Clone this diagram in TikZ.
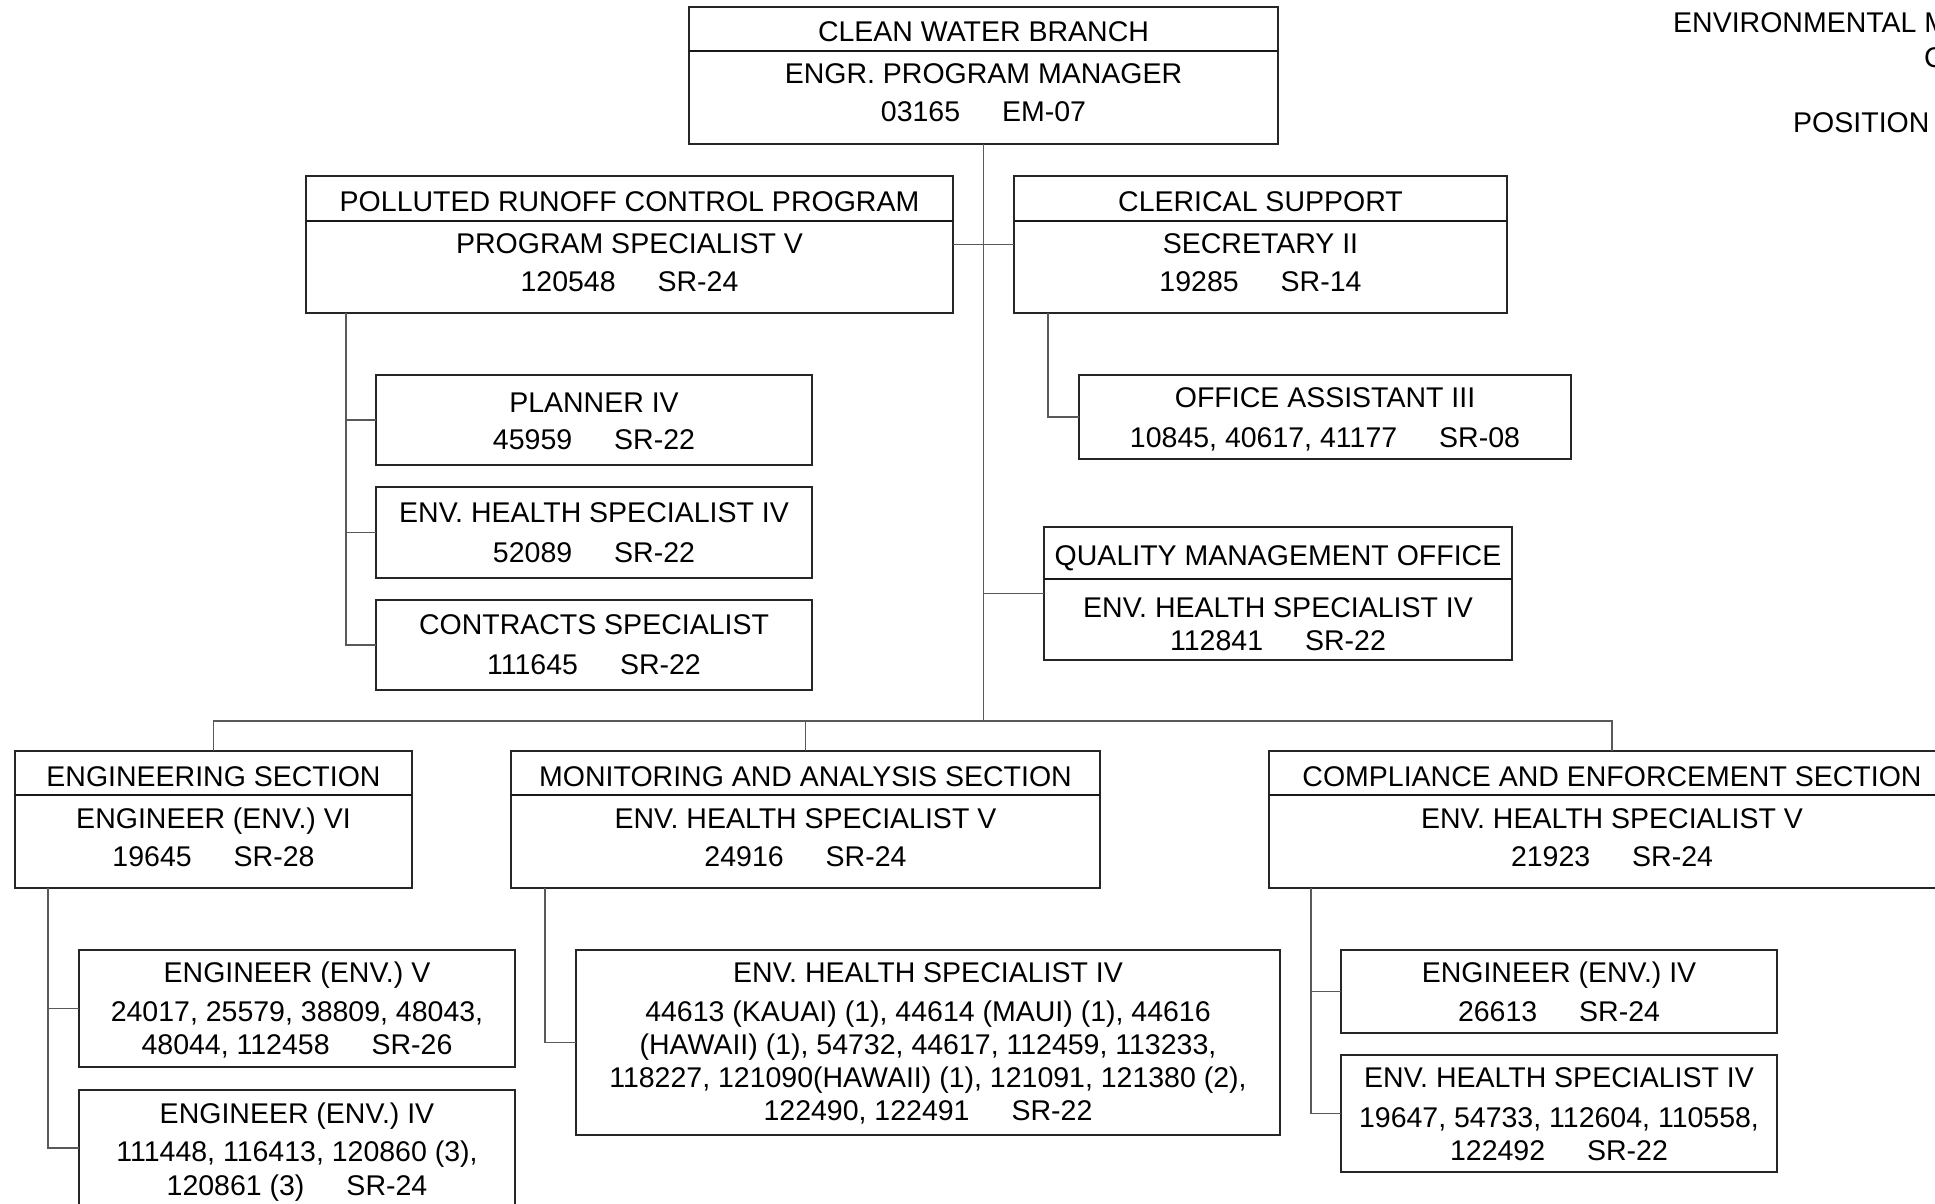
\documentclass[tikz,border=0pt]{standalone}
\usepackage{fontspec}
\setmainfont{Liberation Sans}
\newcommand\gp{\hspace{42pt}}
\begin{document}
\begin{tikzpicture}[x=1pt,y=-1pt,
  box/.style={draw=black!85,line width=1.6pt,rectangle,anchor=north west,inner sep=0pt,outer sep=0pt},
  div/.style={draw=black!90,line width=1.4pt},
  conn/.style={draw=black!65,line width=1.5pt},
  txt/.style={anchor=base,inner sep=0pt,font=\fontsize{28.5}{34}\selectfont},
  ltxt/.style={anchor=base west,inner sep=0pt,font=\fontsize{28.5}{34}\selectfont}]
\useasboundingbox (0,0) rectangle (1935,1204);
\clip (0,0) rectangle (1935,1204);
\fill[white] (0,0) rectangle (1935,1204);

% boxes
\node[box,minimum width=589pt,minimum height=137pt] (top) at (689,7) {};
\node[box,minimum width=647pt,minimum height=137pt] (prc) at (306,176) {};
\node[box,minimum width=493pt,minimum height=137pt] (cler) at (1014,176) {};
\node[box,minimum width=436pt,minimum height=90pt] (pl) at (376,375) {};
\node[box,minimum width=436pt,minimum height=91pt] (ehs) at (376,487) {};
\node[box,minimum width=436pt,minimum height=90pt] (con) at (376,600) {};
\node[box,minimum width=492pt,minimum height=84pt] (oa) at (1079,375) {};
\node[box,minimum width=468pt,minimum height=133pt] (qmo) at (1044,527) {};
\node[box,minimum width=397pt,minimum height=137pt] (eng) at (15,751) {};
\node[box,minimum width=589pt,minimum height=137pt] (mon) at (511,751) {};
\node[box,minimum width=686pt,minimum height=137pt] (comp) at (1269,751) {};
\node[box,minimum width=436pt,minimum height=117pt] (e5) at (79,950) {};
\node[box,minimum width=436pt,minimum height=116pt] (e4) at (79,1090) {};
\node[box,minimum width=704pt,minimum height=185pt] (ehm) at (576,950) {};
\node[box,minimum width=436pt,minimum height=83pt] (ce4) at (1341,950) {};
\node[box,minimum width=436pt,minimum height=117pt] (ceh) at (1341,1055) {};

% dividers
\draw[div] ([yshift=-44pt]top.north west) -- ([yshift=-44pt]top.north east);
\draw[div] ([yshift=-45pt]prc.north west) -- ([yshift=-45pt]prc.north east);
\draw[div] ([yshift=-45pt]cler.north west) -- ([yshift=-45pt]cler.north east);
\draw[div] ([yshift=-52pt]qmo.north west) -- ([yshift=-52pt]qmo.north east);
\draw[div] ([yshift=-44pt]eng.north west) -- ([yshift=-44pt]eng.north east);
\draw[div] ([yshift=-44pt]mon.north west) -- ([yshift=-44pt]mon.north east);
\draw[div] ([yshift=-44pt]comp.north west) -- ([yshift=-44pt]comp.north east);

% connectors
\coordinate (bar) at (983.5,721);
\draw[conn] (top.south) -- (bar);
\draw[conn] (prc.east) -- (cler.west);
\draw[conn] (qmo.west) -- (qmo.west -| bar);
\draw[conn] (eng.north) -- (eng.north |- bar) -- (comp.north |- bar) -- (comp.north);
\draw[conn] (mon.north) -- (mon.north |- bar);
\coordinate (ps) at ([xshift=40pt]prc.south west);
\draw[conn] (ps) |- (con.west);
\draw[conn] (ps |- pl.west) -- (pl.west);
\draw[conn] (ps |- ehs.west) -- (ehs.west);
\coordinate (cs) at ([xshift=34pt]cler.south west);
\draw[conn] (cs) |- (oa.west);
\coordinate (es) at ([xshift=33pt]eng.south west);
\draw[conn] (es) |- (e4.west);
\draw[conn] (es |- e5.west) -- (e5.west);
\coordinate (ms) at ([xshift=34pt]mon.south west);
\draw[conn] (ms) |- (ehm.west);
\coordinate (cps) at ([xshift=42pt]comp.south west);
\draw[conn] (cps) |- (ceh.west);
\draw[conn] (cps |- ce4.west) -- (ce4.west);

% texts
\node[txt] (top1) at (983.5,42) {CLEAN WATER BRANCH};
\node[txt] (top2) at (983.5,84) {ENGR. PROGRAM MANAGER};
\node[txt] (top3) at (983.5,122) {03165\gp EM-07};

\node[txt] (prc1) at (629.5,211) {POLLUTED RUNOFF CONTROL PROGRAM};
\node[txt] (prc2) at (629.5,253) {PROGRAM SPECIALIST V};
\node[txt] (prc3) at (629.5,291) {120548\gp SR-24};

\node[txt] (cler1) at (1260.5,211) {CLERICAL SUPPORT};
\node[txt] (cler2) at (1260.5,253) {SECRETARY II};
\node[txt] (cler3) at (1260.5,291) {19285\gp SR-14};

\node[txt] (pl1) at (594,412) {PLANNER IV};
\node[txt] (pl2) at (594,449) {45959\gp SR-22};
\node[txt] (ehs1) at (594,522) {ENV. HEALTH SPECIALIST IV};
\node[txt] (ehs2) at (594,562) {52089\gp SR-22};
\node[txt] (con1) at (594,634) {CONTRACTS SPECIALIST};
\node[txt] (con2) at (594,674) {111645\gp SR-22};

\node[txt] (oa1) at (1325,407) {OFFICE ASSISTANT III};
\node[txt] (oa2) at (1325,447) {10845, 40617, 41177\gp SR-08};

\node[txt] (qmo1) at (1278,565) {QUALITY MANAGEMENT OFFICE};
\node[txt] (qmo2) at (1278,617) {ENV. HEALTH SPECIALIST IV};
\node[txt] (qmo3) at (1278,650) {112841\gp SR-22};

\node[txt] (eng1) at (213.5,786) {ENGINEERING SECTION};
\node[txt] (eng2) at (213.5,828) {ENGINEER (ENV.) VI};
\node[txt] (eng3) at (213.5,866) {19645\gp SR-28};

\node[txt] (mon1) at (805.5,786) {MONITORING AND ANALYSIS SECTION};
\node[txt] (mon2) at (805.5,828) {ENV. HEALTH SPECIALIST V};
\node[txt] (mon3) at (805.5,866) {24916\gp SR-24};

\node[txt] (comp1) at (1612,786) {COMPLIANCE AND ENFORCEMENT SECTION};
\node[txt] (comp2) at (1612,828) {ENV. HEALTH SPECIALIST V};
\node[txt] (comp3) at (1612,866) {21923\gp SR-24};

\node[txt] (e51) at (297,982) {ENGINEER (ENV.) V};
\node[txt] (e52) at (297,1021) {24017, 25579, 38809, 48043,};
\node[txt] (e53) at (297,1054) {48044, 112458\gp SR-26};

\node[txt] (e41) at (297,1123) {ENGINEER (ENV.) IV};
\node[txt] (e42) at (297,1161) {111448, 116413, 120860 (3),};
\node[txt] (e43) at (297,1195) {120861 (3)\gp SR-24};

\node[txt] (ehm1) at (928,982) {ENV. HEALTH SPECIALIST IV};
\node[txt] (ehm2) at (928,1021) {44613 (KAUAI) (1), 44614 (MAUI) (1), 44616};
\node[txt] (ehm3) at (928,1054) {(HAWAII) (1), 54732, 44617, 112459, 113233,};
\node[txt] (ehm4) at (928,1087) {118227, 121090(HAWAII) (1), 121091, 121380 (2),};
\node[txt] (ehm5) at (928,1120) {122490, 122491\gp SR-22};

\node[txt] (ce41) at (1559,982) {ENGINEER (ENV.) IV};
\node[txt] (ce42) at (1559,1021) {26613\gp SR-24};

\node[txt] (ceh1) at (1559,1087) {ENV. HEALTH SPECIALIST IV};
\node[txt] (ceh2) at (1559,1127) {19647, 54733, 112604, 110558,};
\node[txt] (ceh3) at (1559,1160) {122492\gp SR-22};

\node[ltxt] (hd1) at (1673,33) {ENVIRONMENTAL M};
\node[ltxt] (hd2) at (1924,68) {C};
\node[ltxt] (hd3) at (1793,133) {POSITION};
\end{tikzpicture}
\end{document}
